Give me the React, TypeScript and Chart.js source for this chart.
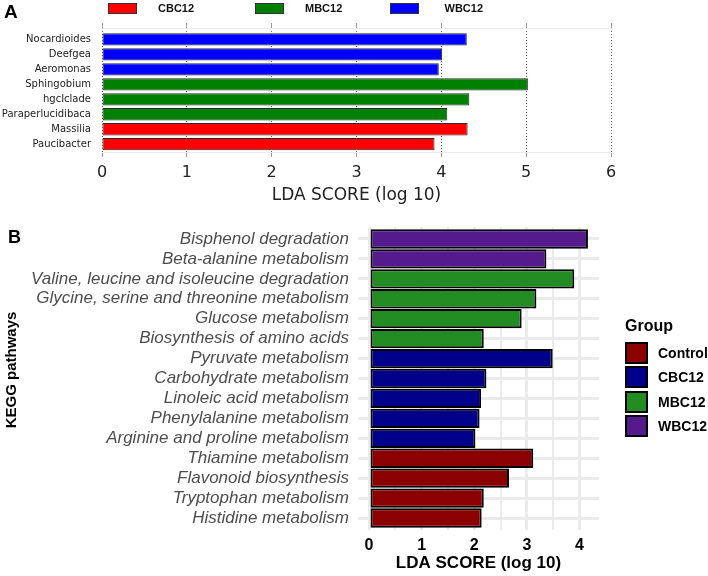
import React, { useEffect, useRef } from "react";
import { Chart, registerables } from "chart.js";

Chart.register(...registerables);

// ---------- Panel A data (LEfSe taxa) ----------
const taxaNames = [
  "Nocardioides",
  "Deefgea",
  "Aeromonas",
  "Sphingobium",
  "hgcIclade",
  "Paraperlucidibaca",
  "Massilia",
  "Paucibacter",
];
const taxaScores = [4.3, 4.01, 3.97, 5.02, 4.33, 4.07, 4.31, 3.92];
const taxaGroups = ["WBC12", "WBC12", "WBC12", "MBC12", "MBC12", "MBC12", "CBC12", "CBC12"];
const taxaLegend = ["CBC12", "MBC12", "WBC12"];
const taxaTicks = [0, 1, 2, 3, 4, 5, 6];

// ---------- Panel B data (KEGG pathways) ----------
const pathwayNames = [
  "Bisphenol degradation",
  "Beta-alanine metabolism",
  "Valine, leucine and isoleucine degradation",
  "Glycine, serine and threonine metabolism",
  "Glucose metabolism",
  "Biosynthesis of amino acids",
  "Pyruvate metabolism",
  "Carbohydrate metabolism",
  "Linoleic acid metabolism",
  "Phenylalanine metabolism",
  "Arginine and proline metabolism",
  "Thiamine metabolism",
  "Flavonoid biosynthesis",
  "Tryptophan metabolism",
  "Histidine metabolism",
];
const pathwayScores = [4.16, 3.37, 3.9, 3.18, 2.9, 2.18, 3.49, 2.23, 2.13, 2.1, 2.02, 3.12, 2.66, 2.18, 2.14];
const pathwayGroups = [
  "WBC12", "WBC12",
  "MBC12", "MBC12", "MBC12", "MBC12",
  "CBC12", "CBC12", "CBC12", "CBC12", "CBC12",
  "Control", "Control", "Control", "Control",
];
const pathwayLegend = ["Control", "CBC12", "MBC12", "WBC12"];
const pathwayTickLabels = [0, 1, 2, 3, 4];
const pathwayGridValues = [0, 0.5, 1, 1.5, 2, 2.5, 3, 3.5, 4];

// ---------- styles ----------
const colorsA: Record<string, string> = { CBC12: "#FF0000", MBC12: "#008000", WBC12: "#0000FF" };
const colorsB: Record<string, string> = {
  Control: "#8B0000",
  CBC12: "#00008B",
  MBC12: "#228B22",
  WBC12: "#551A8B",
};
const SANS = "'Liberation Sans', Arial, Helvetica, sans-serif";
const DEJAVU = "'DejaVu Sans', sans-serif";
const legendASlots = [
  { box: 107.5, text: 158 },
  { box: 255, text: 305 },
  { box: 389.5, text: 444.5 },
];

export default function App() {
  const refA = useRef<HTMLCanvasElement | null>(null);
  const refB = useRef<HTMLCanvasElement | null>(null);

  useEffect(() => {
    if (!refA.current || !refB.current) return;

    const chartA = new Chart(refA.current, {
      type: "bar",
      data: {
        datasets: taxaLegend.map((g) => ({
          label: g,
          data: taxaNames
            .map((_, i) => ({ x: taxaScores[i], y: i, g: taxaGroups[i] }))
            .filter((d) => d.g === g)
            .map((d) => ({ x: d.x, y: d.y })),
          backgroundColor: colorsA[g],
          borderColor: "#2a2a2a",
          borderWidth: 1,
          borderSkipped: false,
          grouped: false,
          categoryPercentage: 1,
          barPercentage: 0.82,
        })),
      },
      options: {
        indexAxis: "y",
        animation: false,
        responsive: false,
        maintainAspectRatio: false,
        layout: { padding: { left: 0, right: 97, top: 0, bottom: 0 } },
        plugins: { legend: { display: false }, tooltip: { enabled: false } },
        scales: {
          y: {
            type: "linear",
            offset: false,
            min: -0.76,
            max: 7.52,
            reverse: true,
            afterBuildTicks: (s: any) => {
              s.ticks = taxaNames.map((_, i) => ({ value: i }));
            },
            afterFit: (s: any) => {
              s.width = 102;
            },
            ticks: {
              autoSkip: false,
              callback: (v: any) => taxaNames[v as number] ?? "",
              font: { family: DEJAVU, size: 10 },
              color: "#222222",
              padding: 11,
            },
            grid: { display: false, drawTicks: false, offset: false },
            border: { display: false },
          },
          x: {
            type: "linear",
            position: "bottom",
            offset: false,
            min: 0,
            max: 6,
            afterBuildTicks: (s: any) => {
              s.ticks = taxaTicks.map((v) => ({ value: v }));
            },
            afterFit: (s: any) => {
              s.height = 54;
            },
            ticks: {
              font: { family: DEJAVU, size: 16 },
              color: "#222222",
              padding: 6,
            },
            grid: {
              color: "#666666",
              lineWidth: 1,
              tickLength: 5,
              tickColor: "#999999",
              tickWidth: 1,
              tickBorderDash: [],
            },
            border: { display: true, color: "#ececec", dash: [1, 2] },
            title: {
              display: true,
              text: "LDA SCORE (log 10)",
              font: { family: DEJAVU, size: 17 },
              color: "#222222",
              padding: { top: 0, bottom: 0 },
            },
          },
          x2: {
            type: "linear",
            axis: "x",
            position: "top",
            offset: false,
            min: 0,
            max: 6,
            afterBuildTicks: (s: any) => {
              s.ticks = taxaTicks.map((v) => ({ value: v }));
            },
            afterFit: (s: any) => {
              s.height = 28;
            },
            ticks: { display: false },
            grid: {
              drawOnChartArea: false,
              tickLength: 5,
              tickColor: "#999999",
              tickWidth: 1,
            },
            border: { display: true, color: "#ececec" },
          },
        },
      } as any,
    });

    const chartB = new Chart(refB.current, {
      type: "bar",
      data: {
        datasets: pathwayLegend.map((g) => ({
          label: g,
          data: pathwayNames
            .map((_, i) => ({ x: pathwayScores[i], y: i, g: pathwayGroups[i] }))
            .filter((d) => d.g === g)
            .map((d) => ({ x: d.x, y: d.y })),
          backgroundColor: colorsB[g],
          borderColor: "#000000",
          borderWidth: 2,
          borderSkipped: false,
          grouped: false,
          categoryPercentage: 1,
          barPercentage: 0.97,
        })),
      },
      options: {
        indexAxis: "y",
        animation: false,
        responsive: false,
        maintainAspectRatio: false,
        layout: { padding: { left: 0, right: 109, top: 22, bottom: 2 } },
        plugins: { legend: { display: false }, tooltip: { enabled: false } },
        scales: {
          y: {
            type: "linear",
            offset: false,
            min: -0.6,
            max: 14.6,
            reverse: true,
            afterBuildTicks: (s: any) => {
              s.ticks = pathwayNames.map((_, i) => ({ value: i }));
            },
            afterFit: (s: any) => {
              s.width = 358;
            },
            ticks: {
              autoSkip: false,
              callback: (v: any) => pathwayNames[v as number] ?? "",
              font: { family: SANS, size: 17, style: "italic" },
              color: "#4D4D4D",
              padding: 9,
            },
            grid: { color: "#EBEBEB", lineWidth: 3, drawTicks: false, offset: false },
            border: { display: false },
          },
          x: {
            type: "linear",
            offset: false,
            min: -0.21,
            max: 4.37,
            afterBuildTicks: (s: any) => {
              s.ticks = pathwayGridValues.map((v) => ({ value: v }));
            },
            afterFit: (s: any) => {
              s.height = 44;
            },
            ticks: {
              autoSkip: false,
              maxRotation: 0,
              callback: (v: any) => (pathwayTickLabels.includes(v as number) ? String(v) : ""),
              font: { family: SANS, size: 16, weight: "bold" },
              color: "#000000",
              padding: 6,
            },
            grid: {
              color: "#EBEBEB",
              lineWidth: (c: any) => (pathwayTickLabels.includes(c.tick?.value) ? 3 : 2),
              drawTicks: false,
            },
            border: { display: false },
            title: {
              display: true,
              text: "LDA SCORE (log 10)",
              font: { family: SANS, size: 17, weight: "bold" },
              color: "#000000",
              padding: { top: 0, bottom: 0 },
            },
          },
        },
      } as any,
    });

    return () => {
      chartA.destroy();
      chartB.destroy();
    };
  }, []);

  return (
    <div
      style={{
        position: "absolute",
        left: 0,
        top: 0,
        width: 708,
        height: 576,
        background: "#ffffff",
        overflow: "hidden",
        fontFamily: SANS,
      }}
    >
      <canvas
        ref={refA}
        width={708}
        height={206}
        style={{ position: "absolute", left: 0, top: 0, display: "block" }}
      />
      <canvas
        ref={refB}
        width={708}
        height={371}
        style={{ position: "absolute", left: 0, top: 205, display: "block" }}
      />

      {/* Panel labels */}
      <div
        style={{
          position: "absolute",
          left: 4,
          top: 2,
          fontSize: 19,
          lineHeight: "19px",
          fontWeight: "bold",
          fontFamily: SANS,
          color: "#000",
        }}
      >
        A
      </div>
      <div
        style={{
          position: "absolute",
          left: 8,
          top: 228,
          fontSize: 18,
          lineHeight: "18px",
          fontWeight: "bold",
          fontFamily: SANS,
          color: "#000",
        }}
      >
        B
      </div>

      {/* Legend A */}
      {taxaLegend.map((g, i) => (
        <React.Fragment key={g}>
          <div
            style={{
              position: "absolute",
              left: legendASlots[i].box,
              top: 3,
              width: 29,
              height: 11,
              boxSizing: "border-box",
              border: "1px solid #333",
              background: colorsA[g],
            }}
          />
          <div
            style={{
              position: "absolute",
              left: legendASlots[i].text,
              top: 3,
              height: 11,
              lineHeight: "11px",
              fontSize: 11,
              fontWeight: "bold",
              fontFamily: SANS,
              color: "#111",
              whiteSpace: "nowrap",
            }}
          >
            {g}
          </div>
        </React.Fragment>
      ))}

      {/* KEGG y-axis title */}
      <div
        style={{
          position: "absolute",
          left: 11,
          top: 370,
          transform: "translate(-50%, -50%) rotate(-90deg)",
          fontSize: 15,
          lineHeight: "18px",
          fontWeight: "bold",
          fontFamily: SANS,
          color: "#000",
          whiteSpace: "nowrap",
        }}
      >
        KEGG pathways
      </div>

      {/* Legend B */}
      <div
        style={{
          position: "absolute",
          left: 625,
          top: 318,
          fontSize: 16,
          lineHeight: "16px",
          fontWeight: "bold",
          fontFamily: SANS,
          color: "#000",
        }}
      >
        Group
      </div>
      {pathwayLegend.map((g, i) => (
        <React.Fragment key={g}>
          <div
            style={{
              position: "absolute",
              left: 624.5,
              top: 342 + i * 24.4,
              width: 23,
              height: 22,
              boxSizing: "border-box",
              border: "2px solid #000",
              background: colorsB[g],
            }}
          />
          <div
            style={{
              position: "absolute",
              left: 658,
              top: 342 + i * 24.4,
              height: 22,
              lineHeight: "22px",
              fontSize: 14,
              fontWeight: "bold",
              fontFamily: SANS,
              color: "#000",
              whiteSpace: "nowrap",
            }}
          >
            {g}
          </div>
        </React.Fragment>
      ))}
    </div>
  );
}
